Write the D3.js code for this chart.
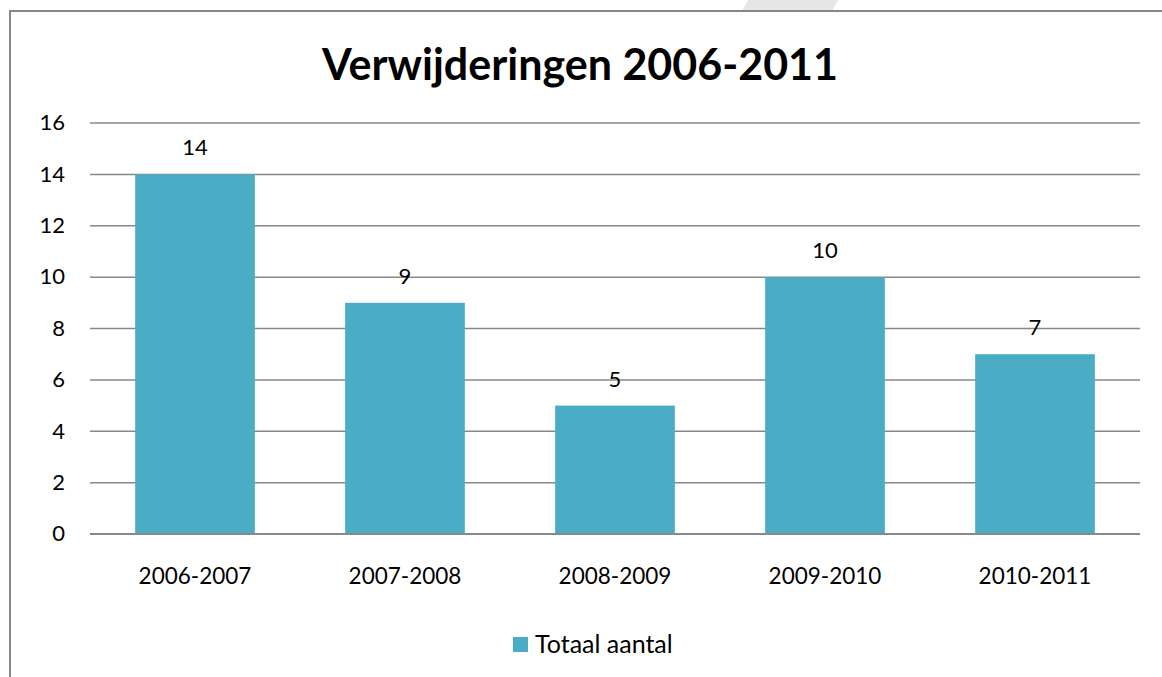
<!DOCTYPE html>
<html>
<head>
<meta charset="utf-8">
<script src="https://cdn.jsdelivr.net/npm/d3@7"></script>
<style>
  body { margin: 0; background: #fff; }
  svg { display: block; font-family: Lato, "Open Sans", sans-serif; }
</style>
</head>
<body>
<div id="chart"></div>
<script>
// chart data
const categories = ["2006-2007", "2007-2008", "2008-2009", "2009-2010", "2010-2011"];
const values = [14, 9, 5, 10, 7];
const yTicks = [0, 2, 4, 6, 8, 10, 12, 14, 16];
const seriesName = "Totaal aantal";
const title = "Verwijderingen 2006-2011";

const width = 1162, height = 677;
const barColor = "#4bacc6";

const svg = d3.select("#chart").append("svg")
  .attr("width", width)
  .attr("height", height);

// faint decoration peeking in at the top edge
svg.append("path")
  .attr("d", "M748,0 L838,0 L832,11 L742,11 Z")
  .attr("fill", "#e6e6e6");

// chart frame (only top and left edges visible in the crop)
svg.append("path")
  .attr("d", `M10,${height} L10,11 L${width},11`)
  .attr("fill", "none")
  .attr("stroke", "#878787")
  .attr("stroke-width", 2);

// plot area
const x = d3.scaleBand()
  .domain(categories)
  .range([90, 1140])
  .paddingInner(0.43)
  .paddingOuter(0.215);

const y = d3.scaleLinear()
  .domain([0, 16])
  .range([534, 123]);

// gridlines
svg.append("g")
  .selectAll("line")
  .data(yTicks)
  .join("line")
  .attr("x1", 90)
  .attr("x2", 1140)
  .attr("y1", d => y(d))
  .attr("y2", d => y(d))
  .attr("stroke", "#888")
  .attr("stroke-width", 1.5);

// y tick labels
svg.append("g")
  .selectAll("text")
  .data(yTicks)
  .join("text")
  .attr("x", 65)
  .attr("y", d => y(d))
  .attr("dy", "0.33em")
  .attr("text-anchor", "end")
  .attr("font-size", 22)
  .attr("fill", "#000")
  .text(d => d);

// bars
svg.append("g")
  .selectAll("rect")
  .data(values)
  .join("rect")
  .attr("x", (d, i) => x(categories[i]))
  .attr("y", d => y(d))
  .attr("width", x.bandwidth())
  .attr("height", d => y(0) - y(d))
  .attr("fill", barColor);

// baseline on top of the bars
svg.append("line")
  .attr("x1", 90).attr("x2", 1140)
  .attr("y1", y(0)).attr("y2", y(0))
  .attr("stroke", "#888")
  .attr("stroke-width", 2);

// value labels
svg.append("g")
  .selectAll("text")
  .data(values)
  .join("text")
  .attr("x", (d, i) => x(categories[i]) + x.bandwidth() / 2)
  .attr("y", d => y(d) - 19)
  .attr("text-anchor", "middle")
  .attr("font-size", 22)
  .attr("fill", "#000")
  .text(d => d);

// category labels
svg.append("g")
  .selectAll("text")
  .data(categories)
  .join("text")
  .attr("x", d => x(d) + x.bandwidth() / 2)
  .attr("y", 584)
  .attr("text-anchor", "middle")
  .attr("font-size", 22.5)
  .attr("fill", "#000")
  .text(d => d);

// title
svg.append("text")
  .attr("x", 580)
  .attr("y", 80)
  .attr("text-anchor", "middle")
  .attr("font-size", 43)
  .attr("font-weight", "bold")
  .attr("fill", "#000")
  .text(title);

// legend
svg.append("rect")
  .attr("x", 513).attr("y", 637)
  .attr("width", 15).attr("height", 15)
  .attr("fill", barColor);
svg.append("text")
  .attr("x", 535)
  .attr("y", 653)
  .attr("font-size", 25)
  .attr("fill", "#000")
  .text(seriesName);
</script>
</body>
</html>
